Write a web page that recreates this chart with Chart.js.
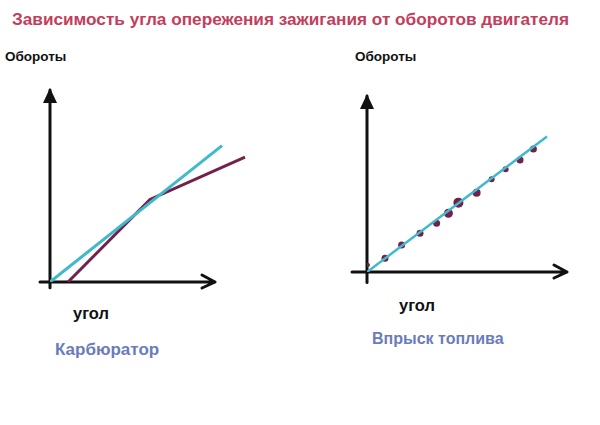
<!DOCTYPE html>
<html lang="ru">
<head>
  <meta charset="UTF-8" />
  <title>Зависимость угла опережения зажигания от оборотов двигателя</title>
  <script src="https://cdn.jsdelivr.net/npm/chart.js"></script>
  <style>
    body {
      margin: 0;
      width: 600px;
      height: 425px;
      position: relative;
      overflow: hidden;
      background: #fff;
      font-family: "Liberation Sans", Arial, sans-serif;
    }
    canvas { position: absolute; top: 0; }
    #leftChart { left: 0; }
    #rightChart { left: 300px; }
    .txt { position: absolute; font-weight: bold; white-space: nowrap; line-height: 1; }
    .title { left: 12px; top: 11px; font-size: 17.2px; color: #c23e5c; }
    .axis { font-size: 13.5px; color: #111; }
    .small { font-size: 16.5px; }
    .name { font-size: 17px; color: #6a7cba; }
  </style>
</head>
<body>
  <div class="txt title">Зависимость угла опережения зажигания от оборотов двигателя</div>
  <div class="txt axis" style="left:5px; top:50px;">Обороты</div>
  <div class="txt axis" style="left:355px; top:50px;">Обороты</div>
  <div class="txt axis small" style="left:73px; top:305px;">угол</div>
  <div class="txt axis small" style="left:399px; top:297px;">угол</div>
  <div class="txt name" style="left:55px; top:341px;">Карбюратор</div>
  <div class="txt name" style="left:372px; top:331px; font-size:16px;">Впрыск топлива</div>

  <canvas id="leftChart" width="300" height="425"></canvas>
  <canvas id="rightChart" width="300" height="425"></canvas>

  <script>
    // left: carburettor
    const carbIdeal = [{x: 0, y: 0}, {x: 86, y: 71}];
    const carbReal = [{x: 9, y: 0}, {x: 50, y: 43}, {x: 97.5, y: 65}];
    const carbAxisX = [-5, 82.5];   // x axis from / arrow tip
    const carbAxisY = [-3, 100];    // y axis from / arrow tip

    // right: injection
    const injIdeal = [{x: 0, y: 0}, {x: 90, y: 77}];
    const injPoints = [
      {x: 0.5, y: 4}, {x: 9, y: 7.8}, {x: 17.3, y: 15.3}, {x: 26.5, y: 22}, {x: 34.8, y: 27.7},
      {x: 40.7, y: 33.4}, {x: 45.7, y: 39.4}, {x: 54.8, y: 45}, {x: 62.3, y: 52.7},
      {x: 69.3, y: 58.4}, {x: 76.5, y: 63.6}, {x: 83.2, y: 69.9}
    ];
    const injSizes = [2, 3.5, 3.5, 3.5, 3.5, 4.5, 5, 4, 3, 3, 3.5, 3.5];
    const injAxisX = [-7.5, 100];
    const injAxisY = [-6, 100];

    const cyan = '#3fb9cc';
    const maroon = '#74204a';

    // draws the hand-drawn looking axes with arrows
    const arrowAxes = {
      id: 'arrowAxes',
      beforeDatasetsDraw(chart, args, opts) {
        const {ctx, scales: {x, y}} = chart;
        const x0 = x.getPixelForValue(0), y0 = y.getPixelForValue(0);
        const xa = x.getPixelForValue(opts.ax[0]), xb = x.getPixelForValue(opts.ax[1]);
        const ya = y.getPixelForValue(opts.ay[0]), yb = y.getPixelForValue(opts.ay[1]);
        ctx.save();
        ctx.strokeStyle = '#111';
        ctx.fillStyle = '#111';
        ctx.lineWidth = 3;
        ctx.lineCap = 'round';
        ctx.lineJoin = 'round';
        // x axis
        ctx.beginPath();
        ctx.moveTo(xa, y0);
        ctx.lineTo(xb, y0);
        ctx.moveTo(xb - 13, y0 - 7);
        ctx.lineTo(xb, y0);
        ctx.lineTo(xb - 13, y0 + 6);
        ctx.stroke();
        // y axis
        ctx.beginPath();
        ctx.moveTo(x0, ya);
        ctx.lineTo(x0, yb);
        ctx.stroke();
        ctx.beginPath();
        ctx.moveTo(x0, yb - 2);
        ctx.lineTo(x0 - 7, yb + 13);
        ctx.lineTo(x0 + 7, yb + 13);
        ctx.closePath();
        ctx.fill();
        ctx.restore();
      }
    };

    function baseOptions(pad, ax, ay) {
      return {
        responsive: false,
        animation: false,
        layout: {padding: pad},
        plugins: {legend: {display: false}, tooltip: {enabled: false}, arrowAxes: {ax: ax, ay: ay}},
        scales: {
          x: {type: 'linear', min: 0, max: 100, display: false},
          y: {type: 'linear', min: 0, max: 100, display: false}
        }
      };
    }

    new Chart(document.getElementById('leftChart'), {
      type: 'scatter',
      data: {
        datasets: [
          {data: carbIdeal, showLine: true, borderColor: cyan, borderWidth: 3, pointRadius: 0},
          {data: carbReal, showLine: true, borderColor: maroon, borderWidth: 3, pointRadius: 0}
        ]
      },
      options: baseOptions({left: 50, right: 50, top: 90, bottom: 143}, carbAxisX, carbAxisY),
      plugins: [arrowAxes]
    });

    new Chart(document.getElementById('rightChart'), {
      type: 'scatter',
      data: {
        datasets: [
          {data: injIdeal, showLine: true, borderColor: cyan, borderWidth: 2.5, pointRadius: 0},
          {data: injPoints, showLine: false, backgroundColor: maroon, borderColor: maroon,
           borderWidth: 0, pointRadius: injSizes, pointStyle: 'circle'}
        ]
      },
      options: baseOptions({left: 67, right: 33, top: 96, bottom: 153}, injAxisX, injAxisY),
      plugins: [arrowAxes]
    });
  </script>
</body>
</html>
